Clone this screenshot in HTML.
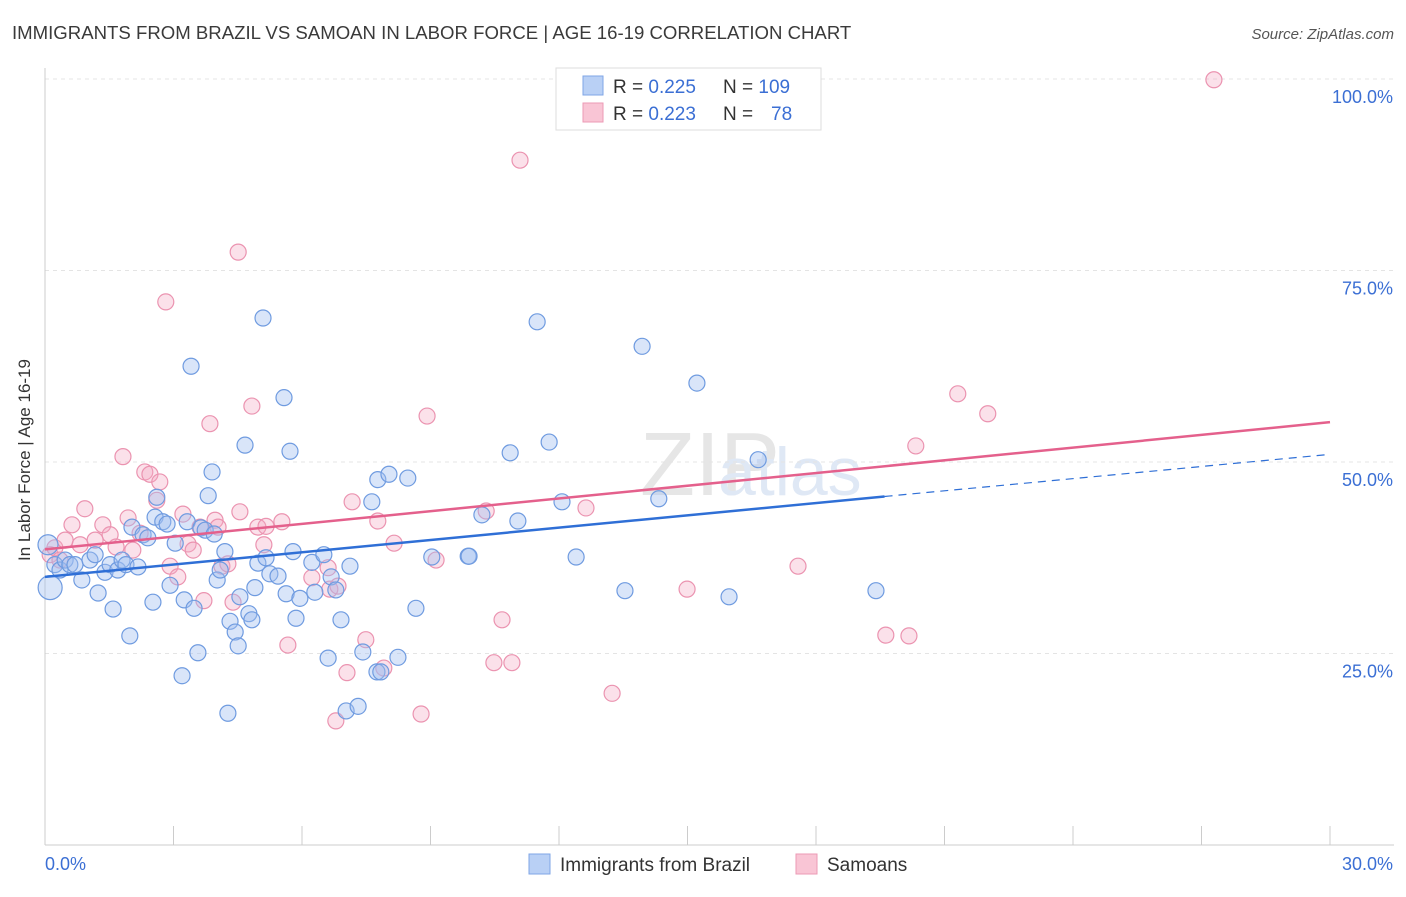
<!DOCTYPE html>
<html><head><meta charset="utf-8">
<style>
body{margin:0;background:#fff;font-family:"Liberation Sans",sans-serif;}
svg text{font-family:"Liberation Sans",sans-serif;}
</style></head><body>
<svg id="chart" width="1406" height="892" xmlns="http://www.w3.org/2000/svg">
<text x="12" y="39" font-size="18.6" fill="#3a3a3a">IMMIGRANTS FROM BRAZIL VS SAMOAN IN LABOR FORCE | AGE 16-19 CORRELATION CHART</text>
<text x="1394" y="39" font-size="15" fill="#555" text-anchor="end" font-style="italic">Source: ZipAtlas.com</text>
<text x="30" y="460" font-size="17" fill="#333" text-anchor="middle" transform="rotate(-90 30 460)">In Labor Force | Age 16-19</text>
<text x="640" y="495" font-size="90" fill="#e6e6e6" font-family="Liberation Serif">ZIP</text>
<text x="718" y="495" font-size="68" fill="#dfe8f5">atlas</text>
<g id="grid"></g><g id="axes"></g><g id="pts"></g><g id="lines"></g>
<g>
<rect x="556" y="68" width="265" height="62" fill="#fff" stroke="#ddd"/>
<rect x="583" y="76" width="20" height="19" fill="#b9d0f5" stroke="#7fa6e6"/>
<rect x="583" y="103" width="20" height="19" fill="#f9c5d5" stroke="#ec9ab5"/>
<text x="613" y="93" font-size="19" fill="#333">R = <tspan fill="#3b6fd4">0.225</tspan></text>
<text x="723" y="93" font-size="19" fill="#333">N = <tspan fill="#3b6fd4">109</tspan></text>
<text x="613" y="120" font-size="19" fill="#333">R = <tspan fill="#3b6fd4">0.223</tspan></text>
<text x="723" y="120" font-size="19" fill="#333">N = <tspan fill="#3b6fd4" x="771">78</tspan></text>
</g>
<g>
<rect x="529" y="854" width="21" height="20" fill="#b9d0f5" stroke="#7fa6e6"/>
<text x="560" y="871" font-size="19" fill="#333">Immigrants from Brazil</text>
<rect x="796" y="854" width="21" height="20" fill="#f9c5d5" stroke="#ec9ab5"/>
<text x="827" y="871" font-size="19" fill="#333">Samoans</text>
</g>
</svg>
<script>
const xTicks=[0,3,6,9,12,15,18,21,24,27,30];
const yTicks=[25,50,75,100];
const yTickLabels=["25.0%","50.0%","75.0%","100.0%"];
const xEndLabels=["0.0%","30.0%"];
const brazilX=[0.12,0.07,0.23,0.35,0.47,0.58,0.7,0.86,1.05,1.17,1.24,1.4,1.52,1.59,1.7,1.8,1.89,1.98,2.03,2.17,2.29,2.4,2.52,2.57,2.61,2.75,2.85,2.92,3.04,3.2,3.25,3.32,3.41,3.48,3.57,3.64,3.74,3.81,3.9,3.95,4.02,4.09,4.2,4.27,4.32,4.44,4.51,4.55,4.67,4.76,4.83,4.9,4.97,5.09,5.16,5.25,5.44,5.58,5.63,5.72,5.79,5.86,5.95,6.23,6.3,6.51,6.61,6.68,6.79,6.91,7.03,7.12,7.31,7.42,7.63,7.75,7.77,7.84,8.03,8.24,8.47,8.66,9.03,9.88,9.9,10.2,10.86,11.04,11.49,11.77,12.07,12.4,13.54,13.94,14.33,15.22,15.97,16.65,19.4];
const brazilY=[33.6,39.2,36.6,35.9,37.2,36.6,36.6,34.6,37.2,37.9,32.9,35.6,36.6,30.8,35.9,37.2,36.6,27.3,41.5,36.3,40.5,40.1,31.7,42.8,45.4,42.2,41.9,33.9,39.4,22.1,32.0,42.2,62.5,30.9,25.1,41.4,41.1,45.6,48.7,40.6,34.6,35.9,38.3,17.2,29.2,27.8,26.0,32.4,52.2,30.2,29.4,33.6,36.8,68.8,37.5,35.4,35.1,58.4,32.8,51.4,38.3,29.6,32.2,36.9,33.0,37.9,24.4,35.0,33.3,29.4,17.5,36.4,18.1,25.2,44.8,22.6,47.7,22.6,48.4,24.5,47.9,30.9,37.6,37.7,37.7,43.1,51.2,42.3,68.3,52.6,44.8,37.6,33.2,65.1,45.2,60.3,32.4,50.3,33.2];
const brazilR=[12,10];
const samoanX=[0.12,0.23,0.35,0.47,0.63,0.82,0.93,1.17,1.35,1.52,1.66,1.82,1.94,2.05,2.22,2.33,2.45,2.61,2.68,2.82,2.92,3.1,3.22,3.34,3.46,3.62,3.71,3.85,3.97,4.04,4.13,4.27,4.39,4.51,4.55,4.83,4.97,5.11,5.16,5.53,5.67,6.23,6.61,6.65,6.79,6.84,7.05,7.17,7.49,7.77,7.91,8.15,8.78,8.92,9.13,10.3,10.48,10.67,10.9,11.09,12.63,13.24,14.01,14.99,17.58,19.63,20.17,20.33,21.31,22.01,27.29];
const samoanY=[37.9,38.8,37.2,39.8,41.8,39.2,43.9,39.8,41.8,40.5,38.9,50.7,42.7,38.5,40.7,48.7,48.4,45.0,47.4,70.9,36.4,35.0,43.2,39.3,38.5,41.5,31.9,55.0,42.4,41.5,36.4,36.7,31.7,77.4,43.5,57.3,41.5,39.2,41.6,42.2,26.1,34.9,36.2,33.4,16.2,33.8,22.5,44.8,26.8,42.3,23.1,39.4,17.1,56.0,37.2,43.6,23.8,29.4,23.8,89.4,44.0,19.8,99.9,33.4,36.4,27.4,27.3,52.1,58.9,56.3,99.9];
const brazilTrendX=[0,19.6,30];
const brazilTrendY=[35.0,45.5,51.0];
const samoanTrendX=[0,30];
const samoanTrendY=[38.6,55.2];

const NS="http://www.w3.org/2000/svg";
const X0=45,X1=1330,Y0=845,Y100=79;
function sx(v){return X0+(v/30)*(X1-X0);}
function sy(v){return Y0-(v/100)*(Y0-Y100);}
function mk(tag,attrs,parent){const e=document.createElementNS(NS,tag);for(const k in attrs)e.setAttribute(k,attrs[k]);parent.appendChild(e);return e;}
const grid=document.getElementById('grid'),axes=document.getElementById('axes'),pts=document.getElementById('pts'),lines=document.getElementById('lines');
yTicks.forEach((t,i)=>{
  const l=mk('line',{x1:X0,x2:1394,y1:sy(t),y2:sy(t),stroke:'#e4e4e4','stroke-dasharray':'4,4'},grid);
  
  
  const tx=mk('text',{x:1393,y:sy(t)+24,'font-size':18,fill:'#3b6fd4','text-anchor':'end'},axes);
  tx.textContent=yTickLabels[i];
  
  
});
const ya=mk('line',{x1:X0,x2:X0,y1:68,y2:Y0,stroke:'#ccc'},axes);


const xa=mk('line',{x1:X0,x2:1394,y1:Y0,y2:Y0,stroke:'#ccc'},axes);


xTicks.forEach(t=>{
  const l=mk('line',{x1:sx(t),x2:sx(t),y1:826,y2:Y0,stroke:'#ccc'},axes);
  
  
});
const xl0=mk('text',{x:45,y:870,'font-size':18,fill:'#3b6fd4'},axes);xl0.textContent=xEndLabels[0];


const xl1=mk('text',{x:1393,y:870,'font-size':18,fill:'#3b6fd4','text-anchor':'end'},axes);xl1.textContent=xEndLabels[1];


samoanX.forEach((x,i)=>{
  const c=mk('circle',{cx:sx(x),cy:sy(samoanY[i]),r:8,fill:'rgba(244,170,196,0.35)',stroke:'#eb93b0','stroke-width':1.2},pts);
  
  
});
brazilX.forEach((x,i)=>{
  const c=mk('circle',{cx:sx(x),cy:sy(brazilY[i]),r:brazilR[i]||8,fill:'rgba(160,190,240,0.4)',stroke:'#6f9be0','stroke-width':1.2},pts);
  
  
});
const bs=mk('line',{x1:sx(brazilTrendX[0]),y1:sy(brazilTrendY[0]),x2:sx(brazilTrendX[1]),y2:sy(brazilTrendY[1]),stroke:'#2f6fd6','stroke-width':2.5},lines);


const bd=mk('line',{x1:sx(brazilTrendX[1]),y1:sy(brazilTrendY[1]),x2:sx(brazilTrendX[2]),y2:sy(brazilTrendY[2]),stroke:'#2f6fd6','stroke-width':1.2,'stroke-dasharray':'8,6'},lines);


const ps=mk('line',{x1:sx(samoanTrendX[0]),y1:sy(samoanTrendY[0]),x2:sx(samoanTrendX[1]),y2:sy(samoanTrendY[1]),stroke:'#e4608c','stroke-width':2.5},lines);


</script>
</body></html>
